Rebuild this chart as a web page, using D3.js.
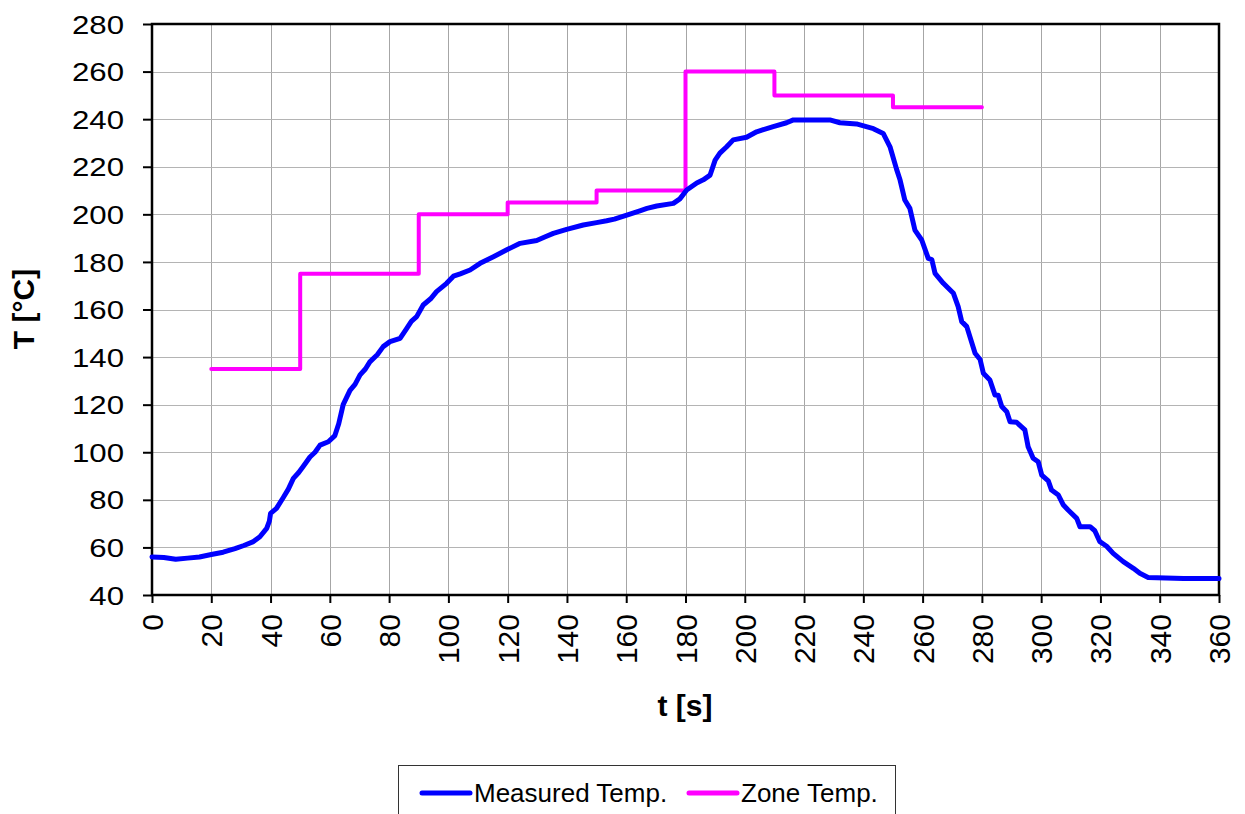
<!DOCTYPE html>
<html>
<head>
<meta charset="utf-8">
<script src="https://cdn.jsdelivr.net/npm/d3@7"></script>
<style>
  body { margin: 0; background: #fff; }
  svg { display: block; font-family: "Liberation Sans", Arial, sans-serif; }
</style>
</head>
<body>
<svg id="chart" width="1245" height="814"></svg>
<script>
// measured oven profile (time in s, temperature in °C)
const measuredTime = [0, 4, 8, 12, 16, 20, 24, 28, 31, 34, 36.4, 38.7, 39.6, 40, 42, 44.3, 46, 47.7, 49.5, 51, 53.3, 55, 56.7, 59.5, 61.7, 63, 64.5, 66.8, 68.5, 70.2, 72, 73.5, 76, 78, 80.3, 83.7, 85.9, 87.5, 89.3, 91.5, 94, 96, 99.4, 101.7, 104, 107.3, 110.7, 115.2, 120.2, 124.2, 129.8, 132.5, 135.4, 139.9, 145.5, 150, 153.4, 156, 160.2, 164.6, 167, 170.3, 175.9, 178.1, 180.4, 183.8, 186, 188.3, 190, 191.6, 193.9, 196.1, 200.6, 204, 206, 209.6, 214.1, 216.4, 222, 228.7, 232.1, 237.7, 243.4, 246.7, 249, 251.2, 252.4, 254, 255.7, 257.4, 259.7, 261.9, 263.1, 264.2, 267, 270.4, 272, 273.2, 274.9, 277.7, 279.4, 280.5, 282.7, 284.4, 285.5, 286.7, 288.4, 289.5, 291.7, 294.5, 295.6, 297.3, 299, 300.2, 302.4, 303.5, 305.8, 307.5, 309.1, 312, 313.1, 316.5, 318.1, 319.8, 322.1, 324.3, 327.7, 331.1, 333.3, 336.1, 348, 360]
const measuredTemp = [56, 55.8, 55, 55.5, 56, 57, 58, 59.5, 60.8, 62.3, 64.5, 68, 71, 74.3, 76.4, 81, 84.5, 89, 91.5, 94, 98, 100, 103, 104.4, 107, 112, 120, 126, 128.5, 132.5, 135, 138, 141, 144.4, 146.5, 147.9, 152, 155, 157, 161.9, 164.5, 167.5, 171, 174, 175, 176.6, 179.4, 182.2, 185.4, 187.8, 189, 190.5, 192, 193.7, 195.5, 196.5, 197.3, 198, 199.7, 201.5, 202.5, 203.5, 204.6, 206.5, 210.2, 213.2, 214.5, 216.5, 222.8, 225.7, 228.4, 231.3, 232.4, 234.7, 235.5, 236.9, 238.5, 239.7, 239.7, 239.7, 238.5, 238, 236, 234, 228.4, 219, 214.4, 206, 202.5, 193.4, 189.2, 181.5, 181, 175.2, 171, 166.8, 161.2, 154.9, 152.8, 141.6, 139, 133.2, 130.4, 124.1, 124, 119.2, 117, 112.8, 112.6, 109.4, 102.3, 97.5, 96, 90.4, 88, 84.1, 82, 77.8, 75.7, 72.2, 68.7, 68.7, 67, 62.4, 60.5, 57.5, 54, 51.2, 49.1, 47.4, 46.9, 46.9]

// zone set points (step changes)
const zoneTime = [20, 50, 50, 90, 90, 120, 120, 150, 150, 180, 180, 210, 210, 250, 250, 280]
const zoneTemp = [135, 135, 175, 175, 200, 200, 205, 205, 210, 210, 260, 260, 250, 250, 245, 245]

const xTicks = d3.range(0, 361, 20)
const yTicks = d3.range(40, 281, 20)
const seriesNames = ['Measured Temp.', 'Zone Temp.']
const seriesColors = ['#0000ff', '#ff00ff']

const svg = d3.select('#chart'),
  margin = { top: 24, right: 26, bottom: 219, left: 152 },
  width = 1245 - margin.left - margin.right,
  height = 814 - margin.top - margin.bottom,
  g = svg.append('g').attr('transform', 'translate(' + margin.left + ',' + margin.top + ')')

const x = d3.scaleLinear().domain([0, 360]).range([0, width])
const y = d3.scaleLinear().domain([40, 280]).range([height, 0])

// grid
g.append('g')
  .selectAll('line')
  .data(xTicks)
  .join('line')
  .attr('x1', (d) => Math.round(x(d)) + 0.5)
  .attr('x2', (d) => Math.round(x(d)) + 0.5)
  .attr('y1', 0)
  .attr('y2', height)
  .attr('stroke', '#a6a6a6')
  .attr('stroke-width', 1)

g.append('g')
  .selectAll('line')
  .data(yTicks)
  .join('line')
  .attr('x1', 0)
  .attr('x2', width)
  .attr('y1', (d) => Math.round(y(d)) + 0.5)
  .attr('y2', (d) => Math.round(y(d)) + 0.5)
  .attr('stroke', '#b4b4b4')
  .attr('stroke-width', 1)

// axes
const xAxis = g.append('g')
  .attr('transform', 'translate(0,' + height + ')')
  .call(d3.axisBottom(x).tickValues(xTicks).tickSize(8).tickSizeOuter(0))
xAxis.select('.domain').remove()
xAxis.selectAll('line').attr('stroke', '#000').attr('stroke-width', 2)
xAxis.selectAll('text')
  .attr('font-size', 30)
  .attr('fill', '#000')
  .attr('text-anchor', 'end')
  .attr('transform', 'rotate(-90)')
  .attr('x', -19)
  .attr('y', 0)
  .attr('dy', '0.35em')

const yAxis = g.append('g')
  .call(d3.axisLeft(y).tickValues(yTicks).tickSize(9).tickSizeOuter(0))
yAxis.select('.domain').remove()
yAxis.selectAll('line').attr('stroke', '#000').attr('stroke-width', 2)
yAxis.selectAll('text')
  .attr('font-size', 26)
  .attr('fill', '#000')
  .attr('x', 0)
  .attr('dy', '0.35em')
  .attr('transform', 'translate(-28,0) scale(1.2,1)')

// plot frame
g.append('rect')
  .attr('x', 0)
  .attr('y', 0)
  .attr('width', width)
  .attr('height', height)
  .attr('fill', 'none')
  .attr('stroke', '#000')
  .attr('stroke-width', 2.5)

// lines
const line = d3.line()
  .x((d) => x(d[0]))
  .y((d) => y(d[1]))

const zoneData = zoneTime.map((t, i) => [t, zoneTemp[i]])
const measuredData = measuredTime.map((t, i) => [t, measuredTemp[i]])

g.append('path')
  .datum(zoneData)
  .attr('fill', 'none')
  .attr('stroke', seriesColors[1])
  .attr('stroke-width', 4)
  .attr('stroke-linejoin', 'round')
  .attr('stroke-linecap', 'round')
  .attr('d', line)

g.append('path')
  .datum(measuredData)
  .attr('fill', 'none')
  .attr('stroke', seriesColors[0])
  .attr('stroke-width', 5)
  .attr('stroke-linejoin', 'round')
  .attr('stroke-linecap', 'round')
  .attr('d', line)

// axis titles
svg.append('text')
  .attr('x', 685)
  .attr('y', 716)
  .attr('text-anchor', 'middle')
  .attr('font-size', 30)
  .attr('font-weight', 'bold')
  .text('t [s]')

svg.append('text')
  .attr('transform', 'translate(34,309) rotate(-90)')
  .attr('text-anchor', 'middle')
  .attr('font-size', 30)
  .attr('font-weight', 'bold')
  .text('T [°C]')

// legend
const legend = svg.append('g')
legend.append('rect')
  .attr('x', 398.5)
  .attr('y', 765.5)
  .attr('width', 497)
  .attr('height', 60)
  .attr('fill', '#fff')
  .attr('stroke', '#333')
  .attr('stroke-width', 1)

const legendX = [422, 689]
seriesNames.forEach((name, i) => {
  legend.append('line')
    .attr('x1', legendX[i])
    .attr('x2', legendX[i] + 48)
    .attr('y1', 793)
    .attr('y2', 793)
    .attr('stroke', seriesColors[i])
    .attr('stroke-width', 5)
    .attr('stroke-linecap', 'round')
  legend.append('text')
    .attr('x', legendX[i] + 52)
    .attr('y', 793)
    .attr('dy', '0.35em')
    .attr('font-size', 26)
    .text(name)
})
</script>
</body>
</html>
